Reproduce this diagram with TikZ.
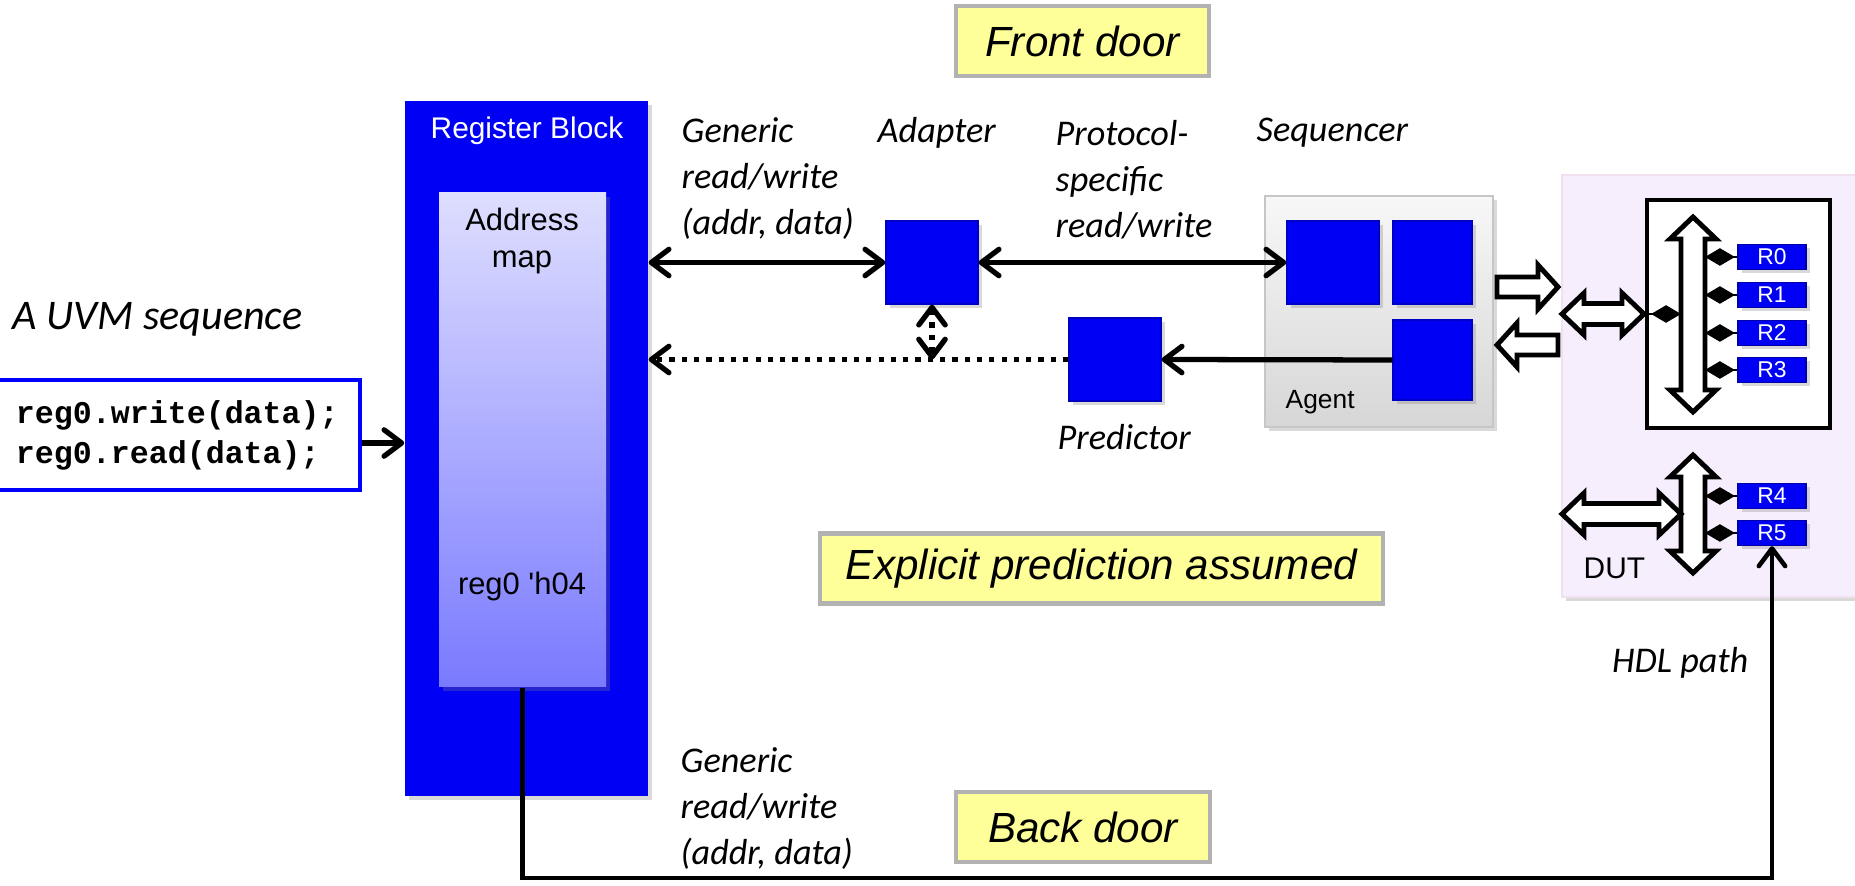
\documentclass[tikz,border=0pt]{standalone}
\usepackage{fontspec}
\setmainfont{Liberation Sans}
\setmonofont{Liberation Mono}
\newfontfamily\calibri{Carlito}
\usetikzlibrary{arrows.meta,shadows}

\definecolor{blkblue}{RGB}{0,0,245}
\definecolor{notefill}{RGB}{255,255,153}
\definecolor{dutfill}{RGB}{246,238,252}

\begin{document}
\begin{tikzpicture}[
  >={Straight Barb[length=5pt,width=7.5pt,round]},
  conn/.style={line width=1.5pt},
  dots/.style={dash pattern=on 1.5pt off 2pt},
  shade/.style={drop shadow={opacity=0.3,shadow xshift=0.04cm,shadow yshift=-0.04cm}},
  blk/.style={fill=blkblue, draw=blkblue!80!black, minimum width=0.92cm,
    minimum height=0.83cm, inner sep=0, shade},
  lbl/.style={font=\calibri\itshape\fontsize{10.3}{13.1}\selectfont,
    align=left, inner sep=0, anchor=west},
  note/.style={fill=notefill, draw=black!30, line width=1.4pt,
    font=\itshape\fontsize{12}{14}\selectfont, minimum height=0.70cm},
  reg/.style={fill=blkblue, draw=blkblue!70!black, text=white,
    font=\fontsize{6.5}{7}\selectfont, minimum width=0.68cm,
    minimum height=0.25cm, inner sep=0, shade},
  hollow/.style={draw, fill=white, line width=1.4pt, line join=miter},
  dia/.style={-{Diamond[length=8.5pt,width=5pt]}, line width=0.8pt}
]
  \useasboundingbox (0,0) rectangle (18.55,8.86);

  % Register block and its address map.
  \node[fill=blkblue, minimum width=2.43cm, minimum height=6.95cm, shade]
    (regblk) at (5.265,4.375) {};
  \node[text=white, font=\fontsize{8.5}{10}\selectfont] at (5.27,7.55) {Register Block};
  \node[top color={rgb,255:red,222;green,222;blue,255},
    bottom color={rgb,255:red,122;green,122;blue,255},
    minimum width=1.67cm, minimum height=4.94cm, shade] (amap) at (5.225,4.46) {};
  \node[align=center, font=\fontsize{8.8}{10.8}\selectfont] at (5.22,6.45) {Address\\map};
  \node[font=\fontsize{8.8}{10}\selectfont] at (5.22,2.99) {reg0 \textquotesingle h04};

  % The sequence.
  \node[lbl, font=\calibri\itshape\fontsize{12}{14}\selectfont] at (0.12,5.67) {A UVM sequence};
  \node[draw=blue, line width=1.2pt, fill=white,
    font=\ttfamily\bfseries\fontsize{9}{11.4}\selectfont, align=left,
    text width=3.23cm, inner xsep=0.21cm, minimum height=1.10cm]
    (code) at (1.775,4.51) {reg0.write(data);\\reg0.read(data);};
  \draw[conn,->] ([yshift=-0.08cm]code.east) -- ([yshift=-0.08cm]code.east -| regblk.west);

  % Notes.
  \node[note, minimum width=2.53cm] (front) at (10.825,8.45) {Front door};
  \node[note, minimum width=5.63cm] (explicit) at (11.015,3.175) {Explicit prediction assumed};
  \node[note, minimum width=2.54cm] (back) at (10.83,0.59) {Back door};

  % Agent.
  \node[top color=gray!6, bottom color=gray!32, draw=gray!45,
    minimum width=2.28cm, minimum height=2.31cm, shade] (agent) at (13.79,5.745) {};
  \node[anchor=west, inner sep=0, font=\fontsize{7.5}{9}\selectfont] at (12.85,4.84) {Agent};
  \node[blk] (seqA) at (13.33,6.235) {};
  \node[blk, minimum width=0.79cm] (seqB) at (14.325,6.235) {};
  \node[blk, minimum width=0.79cm, minimum height=0.80cm] (mon) at (14.325,5.26) {};

  % Adapter and predictor.
  \node[blk] (adapter) at (9.32,6.235) {};
  \node[blk] (pred) at (11.15,5.265) {};

  % Labels.
  \node[lbl] at (6.81,7.07) {Generic\\read/write\\(addr, data)};
  \node[lbl] at (8.77,7.53) {Adapter};
  \node[lbl] at (10.55,7.06) {Protocol-\\specific\\read/write};
  \node[lbl] at (12.56,7.53) {Sequencer};
  \node[lbl] at (10.57,4.49) {Predictor};
  \node[lbl] at (6.80,0.77) {Generic\\read/write\\(addr, data)};
  \node[lbl, anchor=east] at (17.49,2.23) {HDL path};

  % Front door connectors.
  \draw[conn,<->] (regblk.east |- adapter) -- (adapter.west);
  \draw[conn,<->] (adapter.east) -- (seqA.west);
  \draw[conn,->] (mon.west) -- (pred.east);
  \draw[conn,dots,->] (pred.west) -- (regblk.east |- pred);
  \draw[conn,dots,<->] (adapter.south) -- (adapter.south |- pred);

  % DUT.
  \node[fill=dutfill, draw=violet!12, minimum width=3.08cm, minimum height=4.22cm,
    shade] (dut) at (17.16,5.00) {};
  \node[anchor=west, inner sep=0, font=\fontsize{8.5}{10}\selectfont] at (15.83,3.18) {DUT};
  \node[draw, fill=white, line width=1.2pt, minimum width=1.83cm,
    minimum height=2.28cm] (regs) at (17.385,5.72) {};
  \coordinate (busL) at (16.81,0);
  \coordinate (busR) at (17.05,0);

  % Hollow arrows between agent and DUT.
  \draw[hollow] (14.97,6.09) -- (15.38,6.09) -- (15.38,6.21) -- (15.58,5.99)
    -- (15.38,5.77) -- (15.38,5.89) -- (14.97,5.89) -- cycle;
  \draw[hollow] (15.58,5.51) -- (15.17,5.51) -- (15.17,5.63) -- (14.97,5.41)
    -- (15.17,5.19) -- (15.17,5.31) -- (15.58,5.31) -- cycle;
  % Buses inside the DUT.
  \draw[hollow] (15.62,5.72) -- (15.84,5.93) -- (15.84,5.825) -- (16.22,5.825)
    -- (16.22,5.93) -- (16.44,5.72) -- (16.22,5.51) -- (16.22,5.615)
    -- (15.84,5.615) -- (15.84,5.51) -- cycle;
  \draw[hollow] (16.93,6.69) -- (17.16,6.47) -- (17.05,6.47) -- (17.05,4.96)
    -- (17.16,4.96) -- (16.93,4.74) -- (16.70,4.96) -- (16.81,4.96)
    -- (16.81,6.47) -- (16.70,6.47) -- cycle;
  \draw[hollow] (16.93,4.31) -- (17.16,4.09) -- (17.05,4.09) -- (17.05,3.35)
    -- (17.16,3.35) -- (16.93,3.13) -- (16.70,3.35) -- (16.81,3.35)
    -- (16.81,4.09) -- (16.70,4.09) -- cycle;
  \draw[hollow] (15.62,3.72) -- (15.84,3.93) -- (15.84,3.825) -- (16.59,3.825)
    -- (16.59,3.93) -- (16.81,3.72) -- (16.59,3.51) -- (16.59,3.615)
    -- (15.84,3.615) -- (15.84,3.51) -- cycle;
  \draw[dia] (regs.west |- 0,5.72) -- (busL |- 0,5.72);

  % Registers.
  \foreach \n/\y in {0/6.29,1/5.91,2/5.53,3/5.16,4/3.90,5/3.53} {
    \node[reg] (r\n) at (17.72,\y) {R\n};
    \draw[dia] (r\n.west) -- (r\n.west -| busR);
  }

  % Back door.
  \draw[line width=1.3pt,->] (amap.south) -- (amap.south |- 0,0.08) -| (r5.south);
\end{tikzpicture}
\end{document}
